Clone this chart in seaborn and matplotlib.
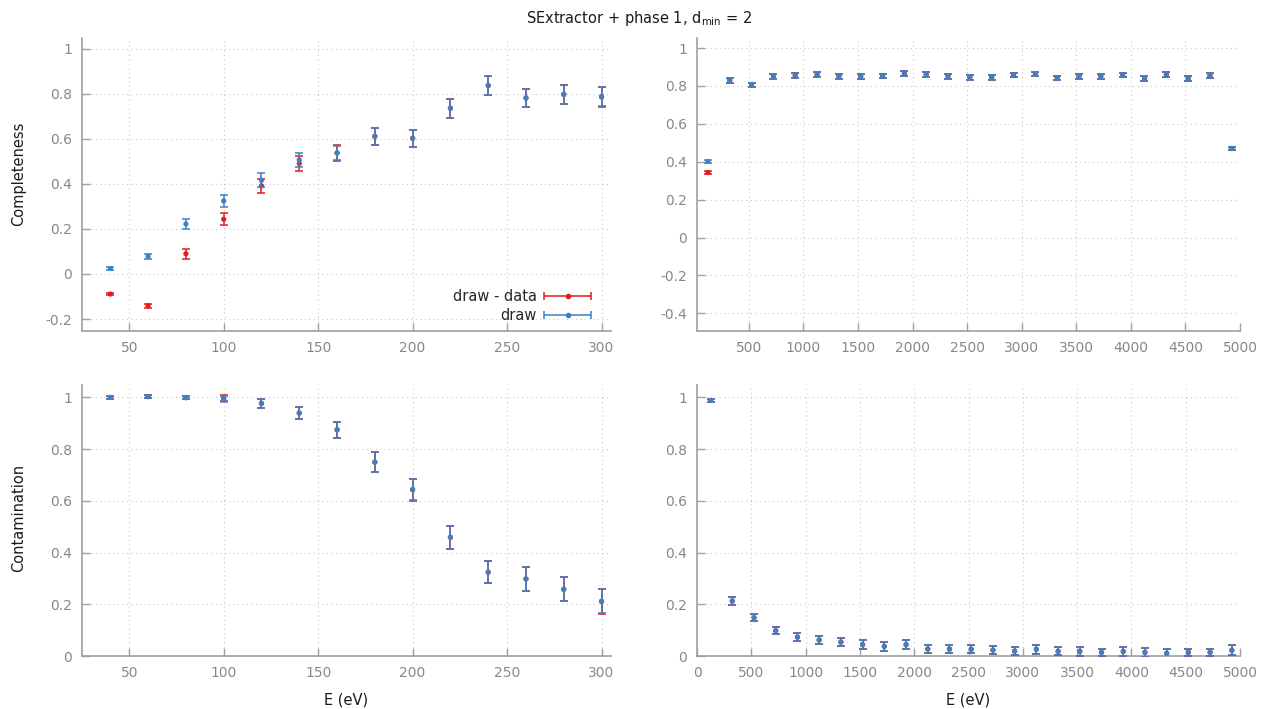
import numpy as np
import pandas as pd
import matplotlib
matplotlib.use("Agg")
import matplotlib.pyplot as plt
import seaborn as sns
from matplotlib.ticker import MultipleLocator, FuncFormatter
from matplotlib.container import ErrorbarContainer
from matplotlib.legend_handler import HandlerErrorbar

# ---------------- data ----------------
E_low = [40, 60, 80, 100, 120, 140, 160, 180, 200, 220, 240, 260, 280, 300]
E_high = [125, 325, 525, 725, 925, 1125, 1325, 1525, 1725, 1925, 2125, 2325, 2525,
          2725, 2925, 3125, 3325, 3525, 3725, 3925, 4125, 4325, 4525, 4725, 4925]

comp_low_draw = [0.024, 0.078, 0.222, 0.324, 0.416, 0.506, 0.537, 0.611, 0.602, 0.735, 0.836, 0.781, 0.797, 0.788]
comp_low_draw_err = [0.008, 0.012, 0.021, 0.027, 0.030, 0.031, 0.033, 0.037, 0.037, 0.041, 0.041, 0.041, 0.043, 0.041]
comp_low_dd = [-0.089, -0.141, 0.090, 0.243, 0.391, 0.490, 0.537, 0.611, 0.602, 0.735, 0.836, 0.781, 0.797, 0.785]
comp_low_dd_err = [0.006, 0.010, 0.022, 0.027, 0.030, 0.033, 0.034, 0.038, 0.038, 0.041, 0.041, 0.041, 0.043, 0.044]

comp_high_draw = [0.401, 0.830, 0.807, 0.851, 0.855, 0.860, 0.851, 0.851, 0.853, 0.865, 0.860, 0.851, 0.846,
                  0.846, 0.857, 0.862, 0.844, 0.851, 0.851, 0.858, 0.839, 0.860, 0.839, 0.855, 0.470]
comp_high_draw_err = [0.007, 0.013, 0.010, 0.012, 0.012, 0.012, 0.012, 0.012, 0.012, 0.012, 0.012, 0.012, 0.012,
                      0.012, 0.012, 0.012, 0.011, 0.012, 0.012, 0.012, 0.011, 0.011, 0.011, 0.011, 0.008]
comp_high_dd = [0.343, 0.830, 0.807, 0.851, 0.855, 0.860, 0.851, 0.851, 0.853, 0.865, 0.860, 0.851, 0.846,
                0.846, 0.857, 0.862, 0.844, 0.851, 0.851, 0.858, 0.839, 0.860, 0.839, 0.855, 0.470]
comp_high_dd_err = [0.008, 0.013, 0.010, 0.012, 0.012, 0.012, 0.012, 0.012, 0.012, 0.012, 0.012, 0.012, 0.012,
                    0.012, 0.012, 0.012, 0.011, 0.012, 0.012, 0.012, 0.011, 0.011, 0.011, 0.011, 0.008]

cont_low_draw = [1.000, 1.003, 0.999, 0.995, 0.977, 0.939, 0.875, 0.750, 0.644, 0.459, 0.324, 0.298, 0.258, 0.212]
cont_low_draw_err = [0.005, 0.006, 0.006, 0.012, 0.017, 0.023, 0.031, 0.037, 0.040, 0.044, 0.042, 0.045, 0.046, 0.046]
cont_low_dd = [1.000, 1.003, 0.999, 0.997, 0.977, 0.940, 0.875, 0.750, 0.643, 0.459, 0.324, 0.298, 0.258, 0.211]
cont_low_dd_err = [0.005, 0.007, 0.006, 0.012, 0.017, 0.024, 0.031, 0.038, 0.043, 0.044, 0.042, 0.045, 0.046, 0.047]

cont_high_draw = [0.988, 0.214, 0.148, 0.098, 0.073, 0.062, 0.055, 0.044, 0.037, 0.044, 0.027, 0.027, 0.026,
                  0.023, 0.019, 0.026, 0.018, 0.018, 0.014, 0.018, 0.014, 0.010, 0.014, 0.014, 0.022]
cont_high_draw_err = [0.004, 0.016, 0.014, 0.014, 0.015, 0.017, 0.015, 0.016, 0.016, 0.017, 0.017, 0.017, 0.015,
                      0.017, 0.017, 0.017, 0.016, 0.018, 0.014, 0.017, 0.016, 0.016, 0.013, 0.013, 0.020]
cont_high_dd = [0.988, 0.212, 0.148, 0.098, 0.073, 0.062, 0.053, 0.044, 0.037, 0.044, 0.027, 0.027, 0.026,
                0.023, 0.019, 0.026, 0.018, 0.018, 0.014, 0.018, 0.014, 0.010, 0.014, 0.014, 0.022]
cont_high_dd_err = [0.004, 0.016, 0.014, 0.014, 0.015, 0.017, 0.016, 0.016, 0.016, 0.017, 0.017, 0.017, 0.015,
                    0.017, 0.017, 0.017, 0.016, 0.018, 0.014, 0.017, 0.016, 0.016, 0.013, 0.013, 0.020]

labels = ["draw - data", "draw"]
RED = "#e41a1c"
BLUE = "#3f80c0"

# ---------------- style ----------------
sns.set_theme(style="white")
plt.rcParams["font.family"] = ["DejaVu Sans"]
plt.rcParams["axes.unicode_minus"] = False
plt.rcParams["mathtext.default"] = "regular"

W, H = 1278, 709
fig = plt.figure(figsize=(W / 100, H / 100), dpi=100)


def add_ax(l, r, t, b):
    return fig.add_axes([l / W, 1 - b / H, (r - l) / W, (b - t) / H])


ax_tl = add_ax(82, 611, 38, 331)
ax_tr = add_ax(697, 1240, 38, 331)
ax_bl = add_ax(82, 611, 385, 656)
ax_br = add_ax(697, 1240, 385, 656)


def draw(ax, x, y_dd, e_dd, y_d, e_d):
    z = 3
    for y, e, c in [(y_dd, e_dd, RED), (y_d, e_d, BLUE)]:
        ax.errorbar(x, y, yerr=e, fmt="none", ecolor=c, elinewidth=1.1,
                    capsize=3, capthick=1.1, zorder=z)
        df = pd.DataFrame({"E": x, "v": y})
        sns.scatterplot(data=df, x="E", y="v", ax=ax, color=c, s=14,
                        edgecolor="none", linewidth=0, zorder=z + 1, legend=False)
        z += 2


fmt = FuncFormatter(lambda v, p: "0" if abs(v) < 1e-9 else f"{v:g}")


def style(ax, xlim, ylim, xstep, ystep):
    ax.set_xlim(*xlim)
    ax.set_ylim(*ylim)
    ax.xaxis.set_major_locator(MultipleLocator(xstep))
    ax.yaxis.set_major_locator(MultipleLocator(ystep))
    ax.xaxis.set_major_formatter(fmt)
    ax.yaxis.set_major_formatter(fmt)
    ax.set_axisbelow(True)
    ax.grid(True, color="#c8c8c8", linestyle=(0, (1, 3)), linewidth=0.8)
    for s in ["top", "right"]:
        ax.spines[s].set_visible(False)
    for s in ["left", "bottom"]:
        ax.spines[s].set_color("#a0a0a0")
        ax.spines[s].set_linewidth(1.2)
    ax.tick_params(direction="in", length=6, width=1, color="#a0a0a0",
                   labelcolor="#888888", labelsize=10, pad=7,
                   bottom=True, left=True)
    ax.set_xlabel("")
    ax.set_ylabel("")


draw(ax_tl, E_low, comp_low_dd, comp_low_dd_err, comp_low_draw, comp_low_draw_err)
draw(ax_tr, E_high, comp_high_dd, comp_high_dd_err, comp_high_draw, comp_high_draw_err)
draw(ax_bl, E_low, cont_low_dd, cont_low_dd_err, cont_low_draw, cont_low_draw_err)
draw(ax_br, E_high, cont_high_dd, cont_high_dd_err, cont_high_draw, cont_high_draw_err)

# legend handles (horizontal error-bar samples)
h_dd = ax_tl.errorbar([np.nan], [np.nan], xerr=[1], fmt="o", color=RED, ms=3,
                      capsize=3, elinewidth=1.1, capthick=1.1)
h_d = ax_tl.errorbar([np.nan], [np.nan], xerr=[1], fmt="o", color=BLUE, ms=3,
                     capsize=3, elinewidth=1.1, capthick=1.1)

style(ax_tl, (25, 305), (-0.253, 1.047), 50, 0.2)
style(ax_tr, (25, 5000), (-0.493, 1.053), 500, 0.2)
style(ax_bl, (25, 305), (0, 1.048), 50, 0.2)
style(ax_br, (0, 5000), (0, 1.048), 500, 0.2)

ax_tl.legend(handles=[h_dd, h_d], labels=labels, loc="lower right",
             bbox_to_anchor=(0.962, 0.028), markerfirst=False, frameon=False,
             numpoints=1, handlelength=3.2, handletextpad=0.5, labelspacing=0.25,
             fontsize=10.5, borderaxespad=0, borderpad=0,
             handler_map={ErrorbarContainer: HandlerErrorbar(xerr_size=1.6)})

lab_kw = dict(fontsize=10.5, color="#1a1a1a")
ax_tl.set_ylabel("Completeness", **lab_kw)
ax_tl.yaxis.set_label_coords((19 - 82) / 529, (331 - 174) / 293)
ax_tl.yaxis.label.set_verticalalignment("center")
ax_bl.set_ylabel("Contamination", **lab_kw)
ax_bl.yaxis.set_label_coords((19 - 82) / 529, (656 - 518) / 271)
ax_bl.yaxis.label.set_verticalalignment("center")
ax_bl.set_xlabel("E (eV)", **lab_kw)
ax_bl.xaxis.set_label_coords(0.5, -(700 - 656) / 271)
ax_bl.xaxis.label.set_verticalalignment("center")
ax_br.set_xlabel("E (eV)", **lab_kw)
ax_br.xaxis.set_label_coords(0.5, -(700 - 656) / 271)
ax_br.xaxis.label.set_verticalalignment("center")

fig.text(0.5, 1 - 19 / H, r"SExtractor + phase 1, d$_{\mathrm{min}}$ = 2",
         ha="center", va="center", fontsize=10.5, color="#1a1a1a")

fig.savefig("out.png", dpi=100)
